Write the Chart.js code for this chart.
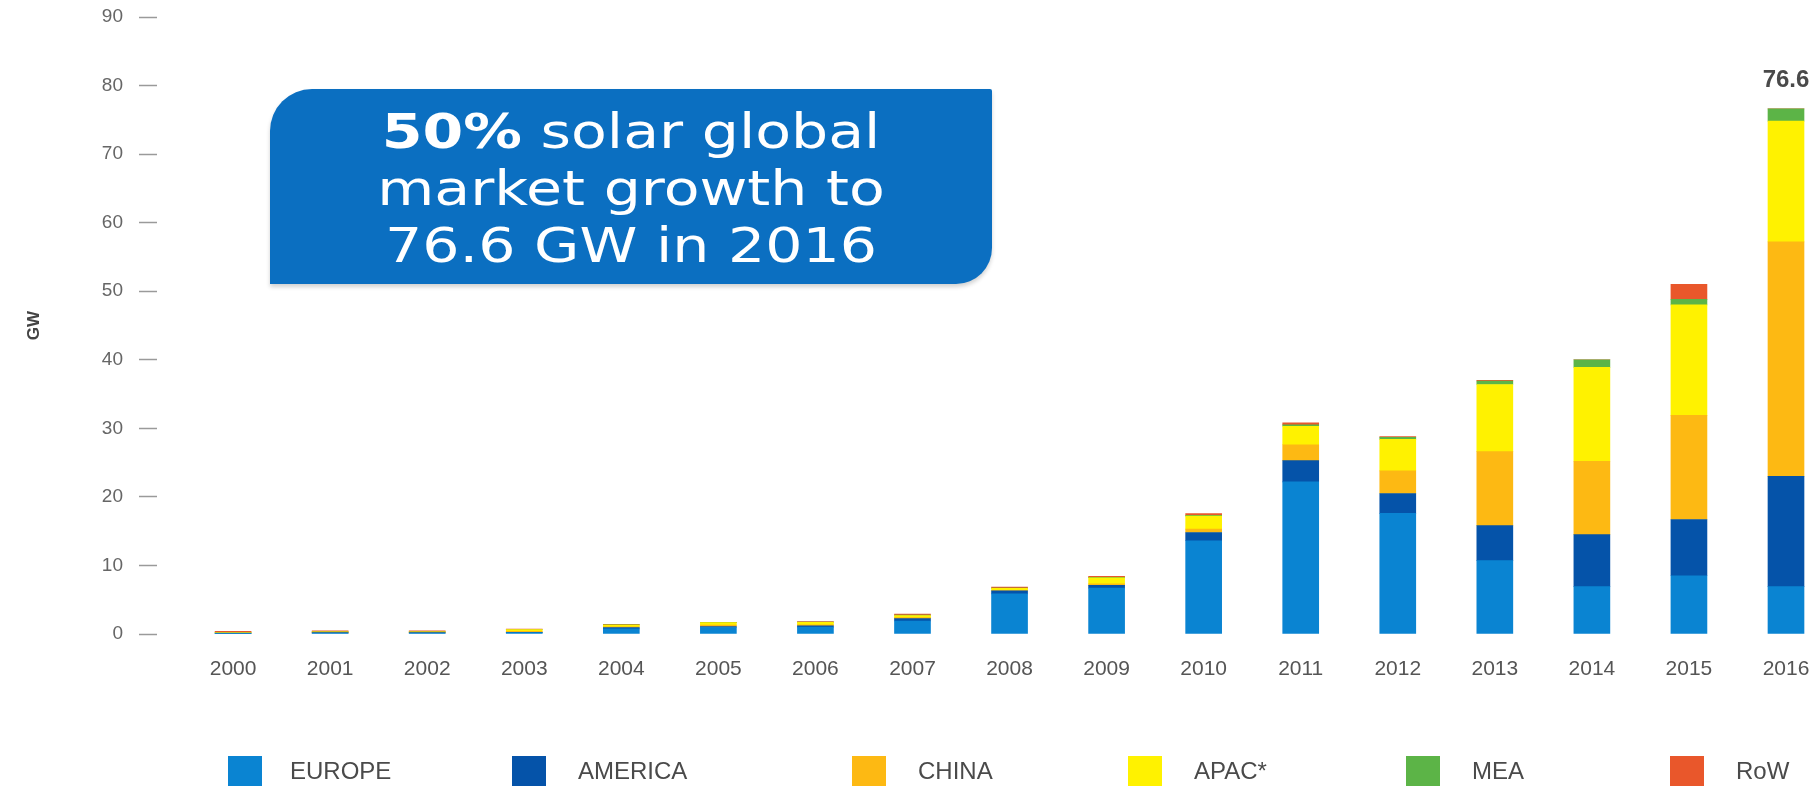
<!DOCTYPE html>
<html><head><meta charset="utf-8">
<script src="https://cdn.jsdelivr.net/npm/chart.js@4.4.0/dist/chart.umd.min.js"></script>
<style>
html,body{margin:0;padding:0;background:#fff;}
#wrap{position:relative;width:1819px;height:791px;overflow:hidden;background:#fff;}
#c{position:absolute;left:0;top:0;}
#callout{position:absolute;left:270px;top:89px;width:722px;height:195px;background:#0b6fc1;border-radius:42px 2px 36px 0;box-shadow:0 3px 4px rgba(0,0,0,0.18);display:flex;align-items:center;justify-content:center;}
#callout .txt{color:#fff;font-family:"DejaVu Sans",Verdana,sans-serif;font-size:48px;line-height:57px;text-align:center;transform:scaleX(1.22);white-space:nowrap;margin-top:4px;}
.lg-box{position:absolute;top:756px;width:34px;height:30px;}
.lg-txt{position:absolute;top:756px;font:24px "Liberation Sans",Arial,sans-serif;color:#4a4a4a;line-height:30px;white-space:nowrap;}
</style></head>
<body><div id="wrap"><canvas id="c" width="1819" height="791"></canvas>
<div id="callout"><div class="txt"><b>50%</b> solar global<br>market growth to<br>76.6 GW in 2016</div></div>
<div id="legend"></div></div>
<script>
// ---- data ----
const years   = [2000,2001,2002,2003,2004,2005,2006,2007,2008,2009,2010,2011,2012,2013,2014,2015,2016];
const seriesNames = ["EUROPE","AMERICA","CHINA","APAC*","MEA","RoW"];
const europe  = [0.10,0.15,0.15,0.20,0.75,0.95,1.00,1.90,5.85,6.70,13.6,22.2,17.6,10.7,6.9,8.5,6.9];
const america = [0.05,0.05,0.05,0.05,0.20,0.15,0.20,0.35,0.45,0.40,1.2,3.1,2.9,5.1,7.6,8.2,16.1];
const china   = [0.00,0.00,0.00,0.15,0.10,0.20,0.15,0.15,0.05,0.20,0.5,2.3,3.3,10.8,10.7,15.2,34.2];
const apac    = [0.10,0.10,0.10,0.25,0.25,0.35,0.35,0.30,0.30,0.90,1.9,2.7,4.6,9.8,13.7,16.1,17.6];
const mea     = [0.00,0.00,0.00,0.00,0.05,0.00,0.05,0.05,0.05,0.05,0.1,0.2,0.3,0.5,1.1,0.8,1.8];
const row     = [0.15,0.15,0.15,0.05,0.05,0.05,0.05,0.15,0.15,0.15,0.25,0.3,0.1,0.1,0.0,2.2,0.0];
const yTicks  = [0,10,20,30,40,50,60,70,80,90];
const labelYear = 2016;
const labelText = "76.6";

// ---- styles ----
const colors = ["#0a84d2","#0553a9","#fdb913","#fff200","#5cb447","#e9572b"];
const legendLeft = [228,512,852,1128,1406,1670];
const legendTextLeft = [290,578,918,1194,1472,1736];

const series = [europe, america, china, apac, mea, row];

const datasets = series.map((arr, k) => ({
  label: seriesNames[k],
  data: years.map((yr, i) => ({x: yr, y: arr[i]})),
  backgroundColor: colors[k],
  borderWidth: 0,
  barThickness: 36,
  stack: 's'
}));

const totalLabelPlugin = {
  id: 'totalLabel',
  afterDatasetsDraw(chart) {
    const i = years.indexOf(labelYear);
    const total = series.reduce((s, arr) => s + arr[i], 0);
    const x = chart.scales.x.getPixelForValue(labelYear);
    const y = chart.scales.y.getPixelForValue(total);
    const ctx = chart.ctx;
    ctx.save();
    ctx.font = 'bold 24px "Liberation Sans", Arial, sans-serif';
    ctx.fillStyle = '#4a4a4a';
    ctx.textAlign = 'center';
    ctx.textBaseline = 'middle';
    ctx.fillText(labelText, x, y - 28);
    ctx.restore();
  }
};

new Chart(document.getElementById('c'), {
  type: 'bar',
  data: { datasets },
  plugins: [totalLabelPlugin],
  options: {
    responsive: false,
    animation: false,
    devicePixelRatio: 1,
    layout: { padding: { left: 0, top: 17, right: 10, bottom: 0 } },
    plugins: { legend: { display: false }, tooltip: { enabled: false } },
    scales: {
      x: {
        type: 'linear',
        stacked: true,
        offset: false,
        min: 1999.216,
        max: 2016.237,
        afterBuildTicks: (s) => { s.ticks = years.map(v => ({ value: v })); },
        afterFit: (s) => { s.height = 157; s.paddingLeft = 0; s.paddingRight = 0; },
        grid: { display: false, drawTicks: false, offset: false },
        border: { display: false },
        ticks: {
          autoSkip: false, maxRotation: 0, padding: 23,
          color: '#555',
          font: { family: '"Liberation Sans", Arial, sans-serif', size: 21 },
          callback: (v) => String(v)
        }
      },
      y: {
        stacked: true,
        min: 0, max: 90,
        afterBuildTicks: (s) => { s.ticks = yTicks.map(v => ({ value: v })); },
        afterFit: (s) => { s.width = 157; s.paddingTop = 0; s.paddingBottom = 0; },
        grid: { display: true, drawOnChartArea: false, drawTicks: true, tickLength: 18, tickColor: '#9a9a9a', tickWidth: 1.5 },
        border: { display: false },
        title: { display: true, text: 'GW', color: '#444', padding: { top: 24, bottom: 0 },
                 font: { family: '"Liberation Sans", Arial, sans-serif', size: 17, weight: 'bold' } },
        ticks: {
          padding: 16, color: '#666',
          font: { family: '"Liberation Sans", Arial, sans-serif', size: 19 }
        }
      }
    }
  }
});

// legend (HTML)
const lg = document.getElementById('legend');
seriesNames.forEach((n, k) => {
  const b = document.createElement('div');
  b.className = 'lg-box'; b.style.left = legendLeft[k] + 'px'; b.style.background = colors[k];
  const t = document.createElement('div');
  t.className = 'lg-txt'; t.style.left = legendTextLeft[k] + 'px'; t.textContent = n;
  lg.appendChild(b); lg.appendChild(t);
});
</script>
</body></html>
